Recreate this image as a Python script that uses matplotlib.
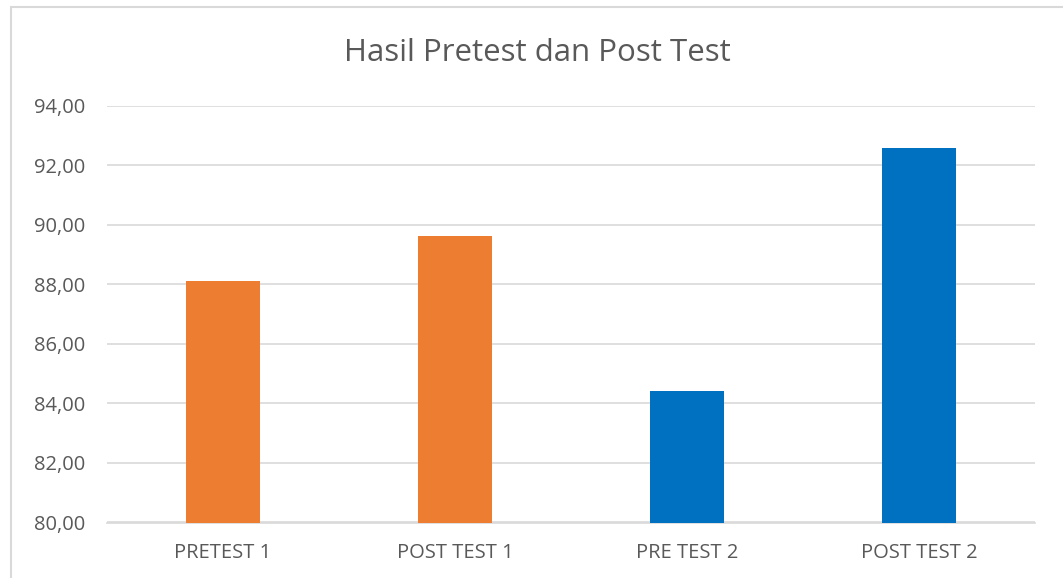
import matplotlib
matplotlib.use("Agg")
import matplotlib.pyplot as plt
from matplotlib.patches import Rectangle
from matplotlib.ticker import FuncFormatter

categories = ["PRETEST 1", "POST TEST 1", "PRE TEST 2", "POST TEST 2"]
values = [88.12, 89.62, 84.42, 92.59]
colors = ["#ED7D31", "#ED7D31", "#0070C0", "#0070C0"]
yticks = [80, 82, 84, 86, 88, 90, 92, 94]
title = "Hasil Pretest dan Post Test"

font = ["Open Sans", "DejaVu Sans"]
plt.rcParams['font.family'] = font

W, H = 1063, 578
fig = plt.figure(figsize=(W / 100, H / 100), dpi=100)
fig.patch.set_facecolor("white")

# chart border (left and top visible)
fig.add_artist(Rectangle((11 / W, -0.1), 1.2, 1 - 7 / H + 0.1, transform=fig.transFigure,
                         fill=False, edgecolor="#D9D9D9", linewidth=1.5))

ax = fig.add_axes([107 / W, 1 - 522.5 / H, (1035 - 107) / W, (522.5 - 105.7) / H])
x = list(range(len(categories)))
ax.bar(x, values, width=0.315, color=colors, zorder=3)
ax.set_xlim(-0.5, 3.5)
ax.set_ylim(80, 94)
ax.set_yticks(yticks)
ax.yaxis.set_major_formatter(FuncFormatter(lambda v, p: f"{v:.2f}".replace(".", ",")))
ax.set_xticks(x)
ax.set_xticklabels(categories)
ax.grid(axis="y", color="#D9D9D9", linewidth=1.2, zorder=0)
for s in ["top", "right", "left"]:
    ax.spines[s].set_visible(False)
ax.spines["bottom"].set_color("#D9D9D9")
ax.spines["bottom"].set_linewidth(1.2)
ax.tick_params(axis="both", length=0, colors="#595959", labelsize=14.5)
ax.tick_params(axis="y", pad=16)
ax.tick_params(axis="x", pad=15)

fig.text(537 / W, 1 - 53 / H, title, ha="center", va="center", fontsize=22.5, color="#595959")

fig.savefig("out.png", dpi=100, facecolor="white")
